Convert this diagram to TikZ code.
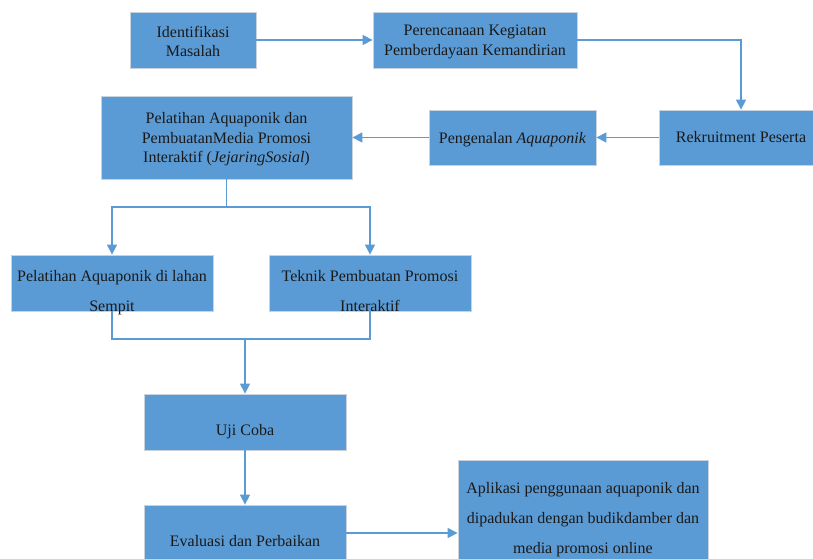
\documentclass[tikz,border=0pt]{standalone}
\usepackage{fontspec}
\setmainfont{Liberation Serif}
\usetikzlibrary{arrows.meta,shadows}
\definecolor{boxblue}{HTML}{5B9BD5}
\definecolor{boxedge}{HTML}{C9D3DD}
\newcommand{\wordgap}{\rule{0pt}{19.5pt}}
\newcommand{\toppad}{\rule{0pt}{11pt}}

\begin{document}
\begin{tikzpicture}[x=0.75pt,y=-0.75pt,
	box/.style={draw=boxedge, line width=0.6pt, fill=boxblue, text=black!90, inner sep=0pt,
		align=center, font=\fontsize{12}{14.5}\selectfont,
		drop shadow={shadow xshift=0.8pt, shadow yshift=-0.8pt, opacity=0.25, fill=black}},
	widebox/.style={box, font=\fontsize{12}{22.5}\selectfont},
	flow/.style={draw=boxblue, line width=1pt, -{Triangle[length=7.5pt,width=7.5pt]}},
	link/.style={draw=boxblue, line width=1pt}]
		
		\useasboundingbox (0,0) rectangle (813,559);
		
		%Planning row
		\node[box, minimum width=94.5pt, minimum height=42pt] (Identifikasi) at (193,40) 
		{\toppad Identifikasi\\Masalah};
		
		\node[box, minimum width=153pt, minimum height=42pt] (Perencanaan) at (475,40) 
		{\toppad Perencanaan Kegiatan\\Pemberdayaan Kemandirian};
		
		%Recruitment row
		\node[box, minimum width=123pt, minimum height=41.25pt] (Rekruitment) at (741,137.5) 
		{Rekruitment Peserta};
		
		\node[box, minimum width=125.25pt, minimum height=41.25pt] (Pengenalan) at (512.5,137.5) 
		{\toppad Pengenalan \textit{Aquaponik}};
		
		\node[box, minimum width=188.25pt, minimum height=62.25pt] (Pelatihan) at (226.5,137.5) 
		{\toppad Pelatihan Aquaponik dan\\PembuatanMedia Promosi\\Interaktif (\textit{JejaringSosial})};
		
		%Training branches
		\node[widebox, minimum width=151.5pt, minimum height=42pt] (Sempit) at (112,283) 
		{\wordgap Pelatihan Aquaponik di lahan\\\smash{Sempit}};
		
		\node[widebox, minimum width=151.5pt, minimum height=42pt] (Teknik) at (370,283) 
		{\wordgap Teknik Pembuatan Promosi\\\smash{Interaktif}};
		
		%Test and evaluation
		\node[widebox, minimum width=151.5pt, minimum height=42pt] (UjiCoba) at (245,422) 
		{\wordgap\smash{Uji Coba}};
		
		\node[widebox, minimum width=151.5pt, minimum height=42pt] (Evaluasi) at (245,533) 
		{\wordgap\smash{Evaluasi dan Perbaikan}};
		
		\node[widebox, minimum width=187.5pt, minimum height=75pt] (Aplikasi) at (583,510) 
		{\wordgap Aplikasi penggunaan aquaponik dan\\dipadukan dengan budikdamber dan\\
		\smash{media promosi online}};
		
		%Connectors
		\coordinate (Split) at (226.5,207);
		\coordinate (Join) at (245,339);
		
		\draw[flow] (Identifikasi.east) -- (Perencanaan.west);
		\draw[flow] (Perencanaan.east) -| (Rekruitment.north);
		\draw[flow] (Rekruitment.west) -- (Pengenalan.east);
		\draw[flow] (Pengenalan.west) -- (Pelatihan.east);
		
		\draw[link] (Pelatihan.south) -- (Split);
		\draw[flow] (Split) -| (Sempit.north);
		\draw[flow] (Split) -| (Teknik.north);
		
		\draw[link] (Sempit.south) |- (Join);
		\draw[link] (Teknik.south) |- (Join);
		\draw[flow] (Join) -- (UjiCoba.north);
		
		\draw[flow] (UjiCoba.south) -- (Evaluasi.north);
		\draw[flow] (Evaluasi.east) -- (Evaluasi.east -| Aplikasi.west);
		
		\end{tikzpicture}
\end{document}
